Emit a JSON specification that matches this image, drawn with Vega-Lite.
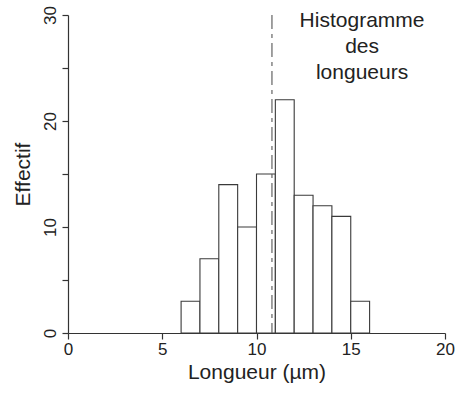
{
  "$schema": "https://vega.github.io/schema/vega-lite/v6.json",
  "width": 377,
  "height": 318,
  "autosize": {"type": "none"},
  "padding": {"left": 68, "top": 15, "right": 19, "bottom": 61},
  "background": "white",
  "view": {"stroke": null},
  "config": {
    "font": "Liberation Sans",
    "axis": {
      "domainColor": "#333333",
      "tickColor": "#333333",
      "labelColor": "#222222",
      "titleColor": "#222222",
      "labelFont": "Liberation Sans",
      "titleFont": "Liberation Sans",
      "titleFontWeight": "normal",
      "grid": false,
      "domainWidth": 1.2,
      "tickWidth": 1.2
    }
  },
  "layer": [
    {
      "data": {
        "values": [
          {"start": 6, "end": 7, "count": 3},
          {"start": 7, "end": 8, "count": 7},
          {"start": 8, "end": 9, "count": 14},
          {"start": 9, "end": 10, "count": 10},
          {"start": 10, "end": 11, "count": 15},
          {"start": 11, "end": 12, "count": 22},
          {"start": 12, "end": 13, "count": 13},
          {"start": 13, "end": 14, "count": 12},
          {"start": 14, "end": 15, "count": 11},
          {"start": 15, "end": 16, "count": 3}
        ]
      },
      "mark": {"type": "bar", "fill": "white", "stroke": "#3a3a3a", "strokeWidth": 1.1},
      "encoding": {
        "x": {
          "field": "start",
          "type": "quantitative",
          "scale": {"domain": [0, 20], "nice": false, "zero": false},
          "axis": {
            "values": [0, 5, 10, 15, 20],
            "title": "Longueur (µm)",
            "titleFontSize": 21,
            "labelFontSize": 17,
            "tickSize": 6,
            "labelPadding": 2,
            "titlePadding": 4,
            "labelFlush": false
          }
        },
        "x2": {"field": "end"},
        "y": {
          "field": "count",
          "type": "quantitative",
          "scale": {"domain": [0, 30], "nice": false},
          "axis": {
            "values": [0, 5, 10, 15, 20, 25, 30],
            "labelExpr": "datum.value % 10 == 0 ? datum.label : ''",
            "title": "Effectif",
            "titleFontSize": 21,
            "labelFontSize": 17,
            "labelAngle": 270,
            "labelAlign": "center",
            "labelBaseline": "bottom",
            "tickSize": 6,
            "labelPadding": 3,
            "titlePadding": 8,
            "labelFlush": false
          }
        },
        "y2": {"datum": 0}
      }
    },
    {
      "data": {"values": [{"mean": 10.82}]},
      "mark": {"type": "rule", "stroke": "#555555", "strokeWidth": 1.1, "strokeDash": [14, 5, 4, 5]},
      "encoding": {
        "x": {"field": "mean", "type": "quantitative"},
        "y": {"datum": 30, "type": "quantitative"},
        "y2": {"datum": 0}
      }
    },
    {
      "data": {"values": [{"label": "Histogramme"}]},
      "mark": {
        "type": "text",
        "text": ["Histogramme", "des", "longueurs"],
        "font": "Liberation Sans",
        "fontSize": 21,
        "lineHeight": 26,
        "align": "center",
        "baseline": "alphabetic",
        "color": "#222222"
      },
      "encoding": {
        "x": {"datum": 15.6, "type": "quantitative"},
        "y": {"datum": 28.9, "type": "quantitative"}
      }
    }
  ]
}
